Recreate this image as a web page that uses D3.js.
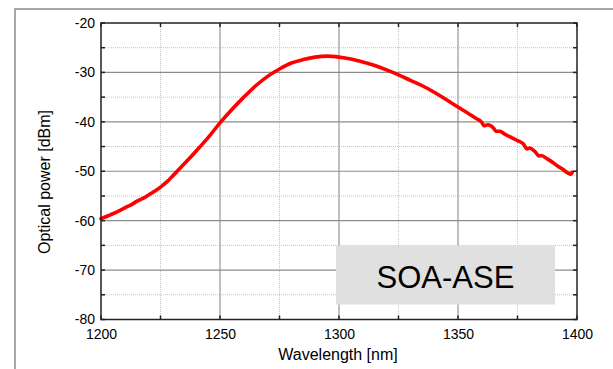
<!DOCTYPE html>
<html lang="en">
<head>
<meta charset="utf-8">
<style type="text/css">
    body { margin: 0; background: #fff; }
    svg text { font-family: "Liberation Sans", Arial, sans-serif; fill: #000; }
</style>
</head>
<body>
<svg width="613" height="369"></svg>
<script src="https://d3js.org/d3.v7.min.js"></script>
<script type="text/javascript">
    // spectrum: wavelength [nm] and power [dBm]
    var wavelength = [1200, 1203, 1205, 1208, 1210, 1213, 1215, 1218, 1220, 1223, 1225, 1228, 1230, 1235, 1240, 1245,
        1250, 1255, 1260, 1265, 1270, 1275, 1280, 1285, 1290, 1295, 1300, 1305, 1310, 1315, 1320,
        1325, 1330, 1335, 1340, 1345, 1350, 1355, 1357.5, 1360, 1361, 1362.5, 1365, 1366, 1367.5,
        1370, 1372.5, 1375, 1377.5, 1379, 1380, 1382.5, 1384, 1385, 1387.5, 1390, 1392, 1394, 1396, 1397.5, 1398];
    var power = [-59.6, -59.0, -58.6, -57.9, -57.4, -56.7, -56.1, -55.4, -54.8, -53.9, -53.2, -52.0, -51.0, -48.5, -45.9, -43.2,
        -40.2, -37.5, -35.0, -32.7, -30.8, -29.3, -28.1, -27.4, -26.9, -26.7, -26.9, -27.3, -27.9, -28.6, -29.5,
        -30.5, -31.6, -32.7, -34.0, -35.5, -37.0, -38.5, -39.3, -40.1, -40.8, -40.6, -41.3, -41.9, -41.9,
        -42.6, -43.2, -43.8, -44.5, -45.5, -45.3, -46.1, -46.9, -46.8, -47.5, -48.3, -49.0, -49.6, -50.3, -50.6, -50.2];

    var xTicks = [1200, 1250, 1300, 1350, 1400];
    var yTicks = [-20, -30, -40, -50, -60, -70, -80];
    var xMinor = [1225, 1275, 1325, 1375];
    var yMinor = [-25, -35, -45, -55, -65, -75];
    var label = "SOA-ASE";

    var svg = d3.select("svg");

    // outer frame of the figure
    svg.append("rect")
        .attr("x", 15).attr("y", 9)
        .attr("width", 700).attr("height", 400)
        .attr("fill", "none")
        .attr("stroke", "#8a8a8a")
        .attr("stroke-width", 1.5);

    var x = d3.scaleLinear().domain([1200, 1400]).range([101, 577]);
    var y = d3.scaleLinear().domain([-80, -20]).range([319.5, 23]);

    var grid = svg.append("g");

    // minor grid (dotted)
    grid.selectAll(".vminor").data(xMinor).enter().append("line")
        .attr("x1", d => x(d)).attr("x2", d => x(d))
        .attr("y1", y(-20)).attr("y2", y(-80))
        .attr("stroke", "#c4c4c4").attr("stroke-width", 1)
        .attr("stroke-dasharray", "1,1");
    grid.selectAll(".hminor").data(yMinor).enter().append("line")
        .attr("x1", x(1200)).attr("x2", x(1400))
        .attr("y1", d => y(d)).attr("y2", d => y(d))
        .attr("stroke", "#c4c4c4").attr("stroke-width", 1)
        .attr("stroke-dasharray", "1,1");

    // major grid
    grid.selectAll(".vmajor").data(xTicks.slice(1, -1)).enter().append("line")
        .attr("x1", d => x(d)).attr("x2", d => x(d))
        .attr("y1", y(-20)).attr("y2", y(-80))
        .attr("stroke", "#ababab").attr("stroke-width", 1.5);
    grid.selectAll(".hmajor").data(yTicks.slice(1, -1)).enter().append("line")
        .attr("x1", x(1200)).attr("x2", x(1400))
        .attr("y1", d => y(d)).attr("y2", d => y(d))
        .attr("stroke", "#8c8c8c").attr("stroke-width", 1.2);

    // label box
    svg.append("rect")
        .attr("x", 336).attr("y", 245.5)
        .attr("width", 219).attr("height", 59)
        .attr("fill", "#e0e0e0");
    svg.append("text")
        .attr("x", 445.5).attr("y", 287.5)
        .attr("text-anchor", "middle")
        .style("font-size", "31px")
        .text(label);

    // curve
    var line = d3.line()
        .x(function (d, i) { return x(wavelength[i]); })
        .y(function (d) { return y(d); })
        .curve(d3.curveMonotoneX);
    svg.append("path")
        .datum(power)
        .attr("d", line)
        .attr("fill", "none")
        .attr("stroke", "#ff0000")
        .attr("stroke-width", 3.6)
        .attr("stroke-linejoin", "round")
        .attr("stroke-linecap", "round");

    // inward ticks on all four sides
    var tk = 4;
    var ticks = svg.append("g").attr("stroke", "#222").attr("stroke-width", 1.5);
    var allX = xTicks.concat(xMinor), allY = yTicks.concat(yMinor);
    allX.forEach(function (v) {
        ticks.append("line").attr("x1", x(v)).attr("x2", x(v)).attr("y1", y(-80)).attr("y2", y(-80) - tk);
        ticks.append("line").attr("x1", x(v)).attr("x2", x(v)).attr("y1", y(-20)).attr("y2", y(-20) + tk);
    });
    allY.forEach(function (v) {
        ticks.append("line").attr("x1", x(1200)).attr("x2", x(1200) + tk).attr("y1", y(v)).attr("y2", y(v));
        ticks.append("line").attr("x1", x(1400)).attr("x2", x(1400) - tk).attr("y1", y(v)).attr("y2", y(v));
    });

    // plot frame
    svg.append("rect")
        .attr("x", x(1200)).attr("y", y(-20))
        .attr("width", x(1400) - x(1200)).attr("height", y(-80) - y(-20))
        .attr("fill", "none")
        .attr("stroke", "#222")
        .attr("stroke-width", 1.5);

    // tick labels
    var xAxis = svg.append("g")
        .attr("transform", "translate(0," + y(-80) + ")")
        .call(d3.axisBottom(x).tickValues(xTicks).tickSize(0).tickPadding(10).tickFormat(d3.format("d")));
    var yAxis = svg.append("g")
        .attr("transform", "translate(" + x(1200) + ",0)")
        .call(d3.axisLeft(y).tickValues(yTicks).tickSize(0).tickPadding(6).tickFormat(d => d));
    [xAxis, yAxis].forEach(function (a) {
        a.attr("font-family", null).attr("font-size", null);
        a.select(".domain").remove();
        a.selectAll("text")
            .style("font-size", "14px")
            .attr("fill", "#000");
    });

    // axis titles
    svg.append("text")
        .attr("x", 338).attr("y", 360)
        .attr("text-anchor", "middle")
        .style("font-size", "16px")
        .text("Wavelength [nm]");
    svg.append("text")
        .attr("transform", "translate(50,182) rotate(-90)")
        .attr("text-anchor", "middle")
        .style("font-size", "16px")
        .text("Optical power [dBm]");
</script>
</body>
</html>
